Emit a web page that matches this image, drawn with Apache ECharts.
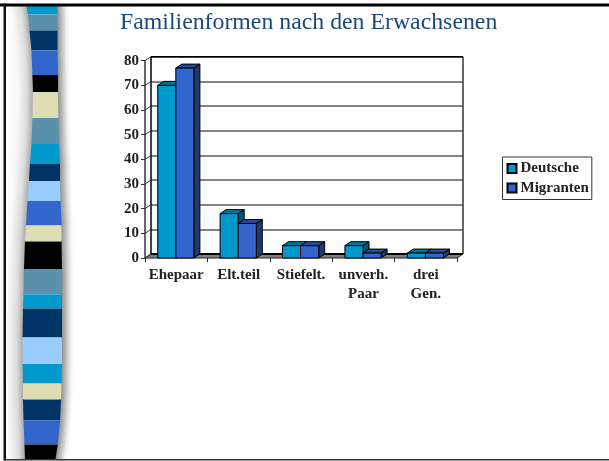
<!DOCTYPE html>
<html><head><meta charset="utf-8">
<style>html,body{margin:0;padding:0;background:#fff}#c{width:609px;height:461px}</style>
<script src="https://cdn.jsdelivr.net/npm/echarts@6/dist/echarts.min.js"></script>
</head><body><div id="c"></div>
<script>
const titleText = 'Familienformen nach den Erwachsenen';
const categories = ['Ehepaar', 'Elt.teil', 'Stiefelt.', 'unverh.\nPaar', 'drei\nGen.'];
const deutsche = [70, 18, 5, 5, 2];
const migranten = [77, 14, 5, 2, 2];
const yTicks = [0, 10, 20, 30, 40, 50, 60, 70, 80];

// Decorative ribbon: [top y, colour]
const C = {a:'#0099cc', g:'#5b91ab', n:'#003366', b:'#3366cc', k:'#000000', y:'#dedeb5', l:'#99ccff'};
const ribbon = [[6,C.a],[14.5,C.g],[30.5,C.n],[50.5,C.b],[75,C.k],[92,C.y],[118,C.g],[144,C.a],[164,C.n],[181,C.l],
  [201,C.b],[225.5,C.y],[241.5,C.k],[269,C.g],[294.5,C.a],[308.5,C.n],[337.5,C.l],[364,C.a],[383.5,C.y],[399.5,C.n],[420.5,C.b],[444.5,C.k],[459,null]];
const leftEdge = [[6,26.5],[14.5,28],[30.5,29.5],[50.7,31.5],[76,32.5],[91.7,33],[117,32.5],[144,31.5],[163,30],[180,29],[201,27.5],[226,26],[241,25],[268,24],[295,23.5],[308,23],[337,22.5],[364,22.5],[383,23],[399,23],[420,23.5],[445,24.5],[459,25]];
const rightEdge = [[6,57],[14.5,57.5],[31,57.5],[50,57.5],[74,58],[92,58],[119,58.5],[144,59],[165,60],[181,60],[201,60.5],[225,61.5],[241,61.5],[270,62],[294,62],[308,62],[338,62],[363,62],[384,61.5],[400,61],[420,60],[443,58],[459,55.5]];
const lerp = (e, y) => { for (let i = 1; i < e.length; i++) if (y <= e[i][0]) { const t = (y - e[i-1][0]) / (e[i][0] - e[i-1][0]); return e[i-1][1] + t * (e[i][1] - e[i-1][1]); } return e[e.length-1][1]; };

const graphics = [];
function grad(stops) {
  return {type:'linear', x:0, y:0, x2:1, y2:0, colorStops: stops.map(s => ({offset:s[0], color:s[1]}))};
}
for (let y = 6; y < 459; y += 3) {
  const l = lerp(leftEdge, y + 1.5), r = lerp(rightEdge, y + 1.5), w = l - 6 + 1;
  graphics.push({type:'rect', z:1, shape:{x:6, y:y, width:w, height:3}, style:{fill:grad([[0,'#ffffff'],[Math.max(0,(w-16)/w),'#f8f8f8'],[Math.max(0,(w-7)/w),'#dcdcdc'],[1,'#a4a4a4']])}});
  graphics.push({type:'rect', z:1, shape:{x:r-1, y:y, width:13, height:3}, style:{fill:grad([[0,'#888888'],[0.4,'#c0c0c0'],[0.75,'#efefef'],[1,'#ffffff']])}});
}
for (let i = 0; i < ribbon.length - 1; i++) {
  const y0 = ribbon[i][0], y1 = ribbon[i+1][0];
  graphics.push({type:'polygon', z:2, shape:{points:[[lerp(leftEdge,y0),y0],[lerp(rightEdge,y0),y0],[lerp(rightEdge,y1),y1],[lerp(leftEdge,y1),y1]]}, style:{fill:ribbon[i][1]}});
}
graphics.push({type:'rect', z:3, shape:{x:0, y:3.5, width:609, height:3}, style:{fill:'#000'}});
graphics.push({type:'rect', z:3, shape:{x:3.5, y:3.5, width:2.5, height:457}, style:{fill:'#111'}});
graphics.push({type:'rect', z:3, shape:{x:4, y:459, width:605, height:1.5}, style:{fill:'#333'}});

const DX = 6, DY = -4, FRONT = {left:145, top:60.7, width:312, height:197.3};
const serif = '"Liberation Serif","Times New Roman",serif';
const colors = {
  Deutsche: {front:'#0099cc', top:'#007799', side:'#005a73'},
  Migranten:{front:'#3366cc', top:'#264c99', side:'#1f3a6b'}
};
function barRender(name, seriesPos) {
  return function (params, api) {
    const i = api.value(0), v = api.value(1);
    const b = api.coord([i, 0]), t = api.coord([i, v]);
    const band = api.size([1, 0])[0], w = band * 0.29;
    const x0 = b[0] - 0.4 - w + seriesPos * w, x1 = x0 + w;
    const c = colors[name], s = {stroke:'#000', lineWidth:1, lineJoin:'round'};
    return {type:'group', children:[
      {type:'polygon', shape:{points:[[x1,t[1]],[x1+DX,t[1]+DY],[x1+DX,b[1]+DY],[x1,b[1]]]}, style:{fill:c.side, ...s}},
      {type:'polygon', shape:{points:[[x0,t[1]],[x0+DX,t[1]+DY],[x1+DX,t[1]+DY],[x1,t[1]]]}, style:{fill:c.top, ...s}},
      {type:'rect', shape:{x:x0, y:t[1], width:w, height:b[1]-t[1]}, style:{fill:c.front, ...s}}
    ]};
  };
}
function wallRender(params, api) {
  const a = api.coord([0, 0]), n = categories.length, top = api.coord([0, 80])[1];
  const l = a[0] - api.size([1,0])[0] / 2, r = l + api.size([1,0])[0] * n, y = a[1];
  const children = [
    {type:'polygon', shape:{points:[[l,y],[r,y],[r+DX,y+DY],[l+DX,y+DY]]}, style:{fill:'#808080', stroke:'#222', lineWidth:1}},
    {type:'line', shape:{x1:l+DX, y1:y+DY, x2:r+DX, y2:y+DY}, style:{stroke:'#000', lineWidth:2}},
    {type:'line', shape:{x1:l+DX, y1:top+DY, x2:r+DX, y2:top+DY}, style:{stroke:'#000', lineWidth:1.5}},
    {type:'line', shape:{x1:l+DX, y1:top+DY, x2:l+DX, y2:y+DY}, style:{stroke:'#000', lineWidth:1.5}},
    {type:'line', shape:{x1:r+DX, y1:top+DY, x2:r+DX, y2:y+DY}, style:{stroke:'#333', lineWidth:1.5}}
  ];
  yTicks.forEach(v => {
    const p = api.coord([0, v]);
    children.push({type:'line', shape:{x1:l, y1:p[1], x2:l+DX, y2:p[1]+DY}, style:{stroke:'#333', lineWidth:1}});
  });
  return {type:'group', children};
}

const chart = echarts.init(document.getElementById('c'), null, {renderer:'canvas'});
chart.setOption({
  animation:false,
  backgroundColor:'#fff',
  graphic:graphics,
  title:{text:titleText, left:115, top:6, textStyle:{fontFamily:serif, fontWeight:'normal', fontSize:23.8, color:'#1a4a7a'}},
  legend:{left:502.5, top:157, orient:'vertical', padding:[3,3,3,4], itemGap:2.5, itemWidth:9, itemHeight:9, icon:'rect',
    backgroundColor:'#fff', borderColor:'#333', borderWidth:1, selectedMode:false,
    textStyle:{fontFamily:serif, fontWeight:'bold', fontSize:15, color:'#222', lineHeight:17, padding:[0,0,0,-1]},
    data:['Deutsche','Migranten']},
  grid:[
    {...FRONT, containLabel:false},
    {left:FRONT.left+DX, top:FRONT.top+DY, width:FRONT.width, height:FRONT.height, show:false}
  ],
  xAxis:[
    {type:'category', gridIndex:0, data:categories, boundaryGap:true,
     axisLine:{show:false},
     axisTick:{show:true, alignWithLabel:false, length:4, lineStyle:{color:'#222', width:1}},
     axisLabel:{interval:0, margin:8, fontFamily:serif, fontWeight:'bold', fontSize:15, color:'#222', lineHeight:18.5}},
    {type:'category', gridIndex:1, data:categories, show:false}
  ],
  yAxis:[
    {type:'value', gridIndex:0, min:0, max:80, interval:10,
     axisLine:{show:true, lineStyle:{color:'#333', width:1.5}},
     axisTick:{show:true, length:4, lineStyle:{color:'#333', width:1}},
     splitLine:{show:false},
     axisLabel:{margin:6, padding:[3,0,0,0], fontFamily:serif, fontWeight:'bold', fontSize:15, color:'#222', formatter:v => yTicks.includes(v) ? String(v) : ''}},
    {type:'value', gridIndex:1, min:0, max:80, interval:10, position:'left',
     axisLine:{show:false}, axisTick:{show:false}, axisLabel:{show:false},
     splitLine:{show:true, lineStyle:{color:'#5a5a5a', width:1.5}}}
  ],
  series:[
    {type:'line', xAxisIndex:1, yAxisIndex:1, data:[], silent:true, showSymbol:false},
    {type:'custom', name:'wall', xAxisIndex:0, yAxisIndex:0, silent:true, z:1, renderItem:wallRender, data:[[0,0]], encode:{x:0,y:1}},
    {type:'custom', name:'Deutsche', xAxisIndex:0, yAxisIndex:0, z:3, renderItem:barRender('Deutsche',0),
     itemStyle:{color:colors.Deutsche.front, borderColor:'#000', borderWidth:1}, encode:{x:0,y:1},
     data:deutsche.map((v,i)=>[i,v])},
    {type:'custom', name:'Migranten', xAxisIndex:0, yAxisIndex:0, z:3, renderItem:barRender('Migranten',1),
     itemStyle:{color:colors.Migranten.front, borderColor:'#000', borderWidth:1}, encode:{x:0,y:1},
     data:migranten.map((v,i)=>[i,v])}
  ]
});
</script></body></html>
